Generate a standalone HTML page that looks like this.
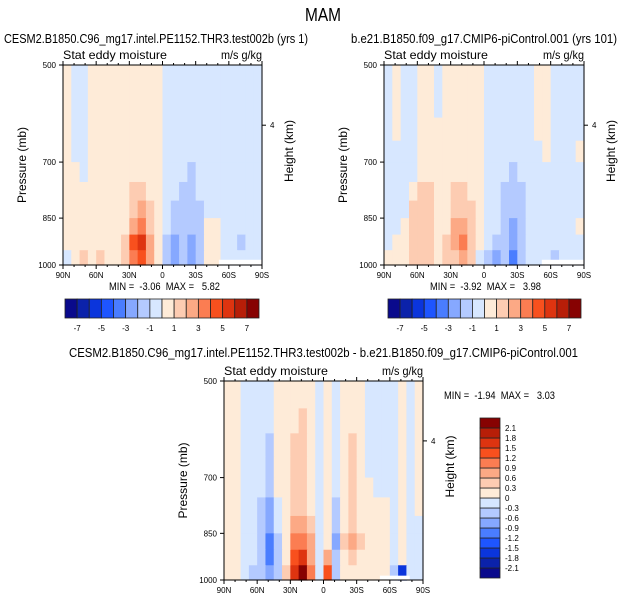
<!DOCTYPE html>
<html><head><meta charset="utf-8"><style>
body{margin:0;background:#fff;}
svg{display:block;font-family:"Liberation Sans",sans-serif;}
text{white-space:pre;}
</style></head><body>
<svg id="fig" width="622" height="602" viewBox="0 0 622 602"></svg>
<script>
const colors=["#0a0a8c","#0b22aa","#0b35dc","#1e55ff","#4a7dff","#86a8ff","#b4caff","#d7e7ff","#feebd8","#fdccb2","#fca985","#fb7d52","#f8501e","#de3410","#b71e08","#870202"];
const levelsTop=[-7,-6,-5,-4,-3,-2,-1,0,1,2,3,4,5,6,7];
const levelsDiff=[-2.1,-1.8,-1.5,-1.2,-0.9,-0.6,-0.3,0,0.3,0.6,0.9,1.2,1.5,1.8,2.1];
const pEdges=[500,550,600,650,700,750,800,850,900,950,1000];
const latTicks=["90N","60N","30N","0","30S","60S","90S"];
const pTicks=[500,700,850,1000];
const p1=[
[.5,-.5,-.5,.5,.5,.5,.5,.5,.5,.5,.5,.5,-.5,-.5,-.5,-.5,-.5,-.5,-.5,-.5,-.5,-.5,-.5,-.5],
[.5,-.5,-.5,.5,.5,.5,.5,.5,.5,.5,.5,.5,-.5,-.5,-.5,-.5,-.5,-.5,-.5,-.5,-.5,-.5,-.5,-.5],
[.5,-.5,-.5,.5,.5,.5,.5,.5,.5,.5,.5,.5,-.5,-.5,-.5,-.5,-.5,-.5,-.5,-.5,-.5,-.5,-.5,-.5],
[.5,-.5,-.5,.5,.5,.5,.5,.5,.5,.5,.5,.5,-.5,-.5,-.5,-.5,-.5,-.5,-.5,-.5,-.5,-.5,-.5,-.5],
[.5,.5,-.5,.5,.5,.5,.5,.5,.5,.5,.5,.5,-.5,-.5,-.5,-1.5,-.5,-.5,-.5,-.5,-.5,-.5,-.5,-.5],
[.5,.5,.5,.5,.5,.5,.5,.5,1.5,1.5,.5,.5,-.5,-.5,-1.5,-1.5,-.5,-.5,-.5,-.5,-.5,-.5,-.5,-.5],
[.5,.5,.5,.5,.5,.5,.5,.5,1.5,2.5,1.5,.5,-.5,-1.5,-1.5,-1.5,-1.5,-.5,-.5,-.5,-.5,-.5,-.5,-.5],
[.5,.5,.5,.5,.5,.5,.5,.5,2.5,3.5,1.5,.5,-.5,-1.5,-1.5,-1.5,-1.5,.5,.5,-.5,-.5,-.5,-.5,-.5],
[.5,.5,.5,.5,.5,.5,.5,1.5,4.5,5.5,2.5,.5,-1.5,-2.5,-1.5,-2.5,-1.5,.5,.5,-.5,-.5,-1.5,-.5,-.5],
[-.5,.5,1.5,.5,1.5,.5,.5,1.5,3.5,4.5,2.5,.5,-1.5,-2.5,-1.5,-2.5,-1.5,.5,.5,-.5,-.5,-.5,-.5,-.5]];
const p2=[
[-.5,.5,-.5,-.5,.5,.5,-.5,.5,.5,.5,.5,.5,-.5,-.5,-.5,-.5,-.5,-.5,.5,.5,-.5,-.5,-.5,-.5],
[-.5,.5,-.5,-.5,.5,.5,-.5,.5,.5,.5,.5,.5,-.5,-.5,-.5,-.5,-.5,-.5,.5,.5,-.5,-.5,-.5,-.5],
[-.5,.5,-.5,-.5,.5,.5,.5,.5,.5,.5,.5,.5,-.5,-.5,-.5,-.5,-.5,-.5,.5,.5,-.5,-.5,-.5,-.5],
[-.5,-.5,-.5,-.5,.5,.5,.5,.5,.5,.5,.5,.5,-.5,-.5,-.5,-.5,-.5,-.5,-.5,.5,-.5,-.5,-.5,.5],
[-.5,-.5,-.5,-.5,.5,.5,.5,.5,.5,.5,.5,.5,-.5,-.5,-.5,-1.5,-.5,-.5,-.5,-.5,-.5,-.5,-.5,-.5],
[-.5,-.5,-.5,.5,1.5,1.5,.5,.5,1.5,1.5,.5,.5,-.5,-.5,-1.5,-1.5,-1.5,-.5,-.5,-.5,-.5,-.5,-.5,-.5],
[-.5,-.5,-.5,1.5,1.5,1.5,.5,.5,1.5,1.5,1.5,.5,-.5,-.5,-1.5,-1.5,-1.5,-.5,-.5,-.5,-.5,-.5,-.5,-.5],
[-.5,-.5,.5,1.5,1.5,1.5,.5,.5,2.5,2.5,1.5,.5,-.5,-.5,-1.5,-2.5,-1.5,-.5,-.5,-.5,-.5,-.5,-.5,.5],
[-.5,.5,.5,1.5,1.5,1.5,.5,1.5,2.5,3.5,1.5,.5,-.5,-1.5,-1.5,-2.5,-1.5,-.5,-.5,-.5,-.5,-.5,-.5,-.5],
[.5,.5,.5,1.5,1.5,1.5,.5,1.5,1.5,2.5,1.5,-.5,-1.5,-2.5,-1.5,-3.5,-1.5,-.5,-.5,-.5,-1.5,-.5,-.5,-.5]];
const p3=[
[.15,.15,-.15,-.15,-.15,-.15,.15,.15,.15,.15,.15,-.15,.15,-.15,.15,.15,.15,-.15,-.15,-.15,-.15,.15,-.15,.15],
[.15,.15,-.15,-.15,-.15,-.15,.15,.15,.15,.45,.15,-.15,.15,-.15,.15,.15,.15,-.15,-.15,-.15,-.15,.15,-.15,.15],
[.15,.15,-.15,-.15,-.15,-.45,.15,.15,.45,.45,.15,-.15,.15,-.15,.15,.45,.15,-.15,-.15,-.15,-.15,.15,-.15,.15],
[.15,.15,-.15,-.15,-.15,-.45,.15,.15,.45,.45,.15,-.15,.15,-.15,.15,.45,.15,-.15,-.15,-.15,-.15,.15,-.15,.15],
[.15,.15,-.15,-.15,-.15,-.45,.15,.15,.45,.45,.15,-.15,.15,-.15,.15,.45,.15,.15,-.15,-.15,-.15,.15,-.15,.15],
[.15,.15,-.15,-.15,-.45,-.75,-.15,.15,.45,.45,.15,-.15,.15,-.45,.15,.45,.15,.15,.15,.15,-.15,.15,-.15,.15],
[.15,.15,-.15,-.15,-.45,-.75,-.15,.15,.75,.75,.45,-.15,.15,-.45,.15,.45,.15,.15,.15,.15,-.15,.15,-.15,-.15],
[.15,.15,-.15,-.15,-.45,-1.05,-.45,.15,1.05,1.05,.75,-.15,.15,-.75,.45,.75,.45,.15,.15,.15,-.15,.15,-.15,-.15],
[.15,.15,-.15,-.15,-.45,-1.05,-.45,.15,1.35,1.65,.75,-.15,.75,-.45,.15,.45,.15,.15,.15,.15,-.15,.15,-.15,-.15],
[.15,.15,-.15,-.45,-.45,-.75,-.45,.45,1.65,2.2,1.05,-.15,1.35,-.45,.15,.15,.15,.15,.15,.15,-.45,-1.65,-.15,-.15]];
const missing1=[-51,-90,982];
const missing2=[-52,-90,982];
const missing3=[-51,-78,985];

const NS="http://www.w3.org/2000/svg";
const svg=document.getElementById('fig');
function el(tag,attrs,parent,text){const e=document.createElementNS(NS,tag);for(const k in attrs)e.setAttribute(k,attrs[k]);if(text!==undefined)e.textContent=text;(parent||svg).appendChild(e);return e;}
function colorFor(v,lv){let i=0;for(const b of lv){if(v>=b)i++;}return colors[i];}

function panel(cfg){
  const {x0,y0,w,h,data,lv,miss,name}=cfg;
  const g=el('g',{},svg);
  
  
  const xs=lat=>x0+(90-lat)/180*w;
  const ys=p=>y0+(Math.log(p)-Math.log(500))/Math.log(2)*h;
  const nc=data[0].length, dl=180/nc;
  for(let r=0;r<data.length;r++){
    for(let c=0;c<nc;c++){
      const la=90-c*dl;
      const xa=xs(la), xb=xs(la-dl), ya=ys(pEdges[r]), yb=ys(pEdges[r+1]);
      const rc=el('rect',{x:xa,y:ya,width:xb-xa+0.6,height:yb-ya+0.6,fill:colorFor(data[r][c],lv)},g);
      
      
    }
  }
  const m=el('rect',{x:xs(miss[0]),y:ys(miss[2]),width:xs(miss[1])-xs(miss[0]),height:y0+h-ys(miss[2]),fill:'#fff'},g);
  
  
  const fr=el('rect',{x:x0,y:y0,width:w,height:h,fill:'none',stroke:'#000','stroke-width':1},g);
  
  
  for(let i=0;i<=18;i++){
    const x=x0+i*w/18, major=i%3===0, L=major?4:2;
    el('line',{x1:x,y1:y0+h,x2:x,y2:y0+h+L,stroke:'#000'},g);
    el('line',{x1:x,y1:y0,x2:x,y2:y0-L,stroke:'#000'},g);
  }
  latTicks.forEach((t,i)=>{const tx=el('text',{x:x0+i*w/6,y:y0+h+13,'font-size':8,'text-anchor':'middle'},g,t);
    });
  pTicks.forEach(p=>{const y=ys(p);el('line',{x1:x0-4,y1:y,x2:x0,y2:y,stroke:'#000'},g);
    const tx=el('text',{x:x0-7,y:y+3,'font-size':8,'text-anchor':'end'},g,p);
    });
  const y4=ys(616);
  el('line',{x1:x0+w,y1:y4,x2:x0+w+4,y2:y4,stroke:'#000'},g);
  el('text',{x:x0+w+8,y:y4+3,'font-size':8},g,'4');
  const yl=el('text',{x:0,y:0,'font-size':12,'text-anchor':'middle',transform:`translate(${x0-37},${y0+h/2}) rotate(-90)`},g,'Pressure (mb)');
  
  const hl=el('text',{x:0,y:0,'font-size':12,'text-anchor':'middle',transform:`translate(${x0+w+31},${y0+h/2-14}) rotate(-90)`},g,'Height (km)');
  
  const st=el('text',{x:x0,y:y0-6,'font-size':12,textLength:104,lengthAdjust:'spacingAndGlyphs'},g,'Stat eddy moisture');
  
  const un=el('text',{x:x0+w-41,y:y0-6,'font-size':12,textLength:41,lengthAdjust:'spacingAndGlyphs'},g,'m/s g/kg');
  
}
function hbar(x0,y0,w,h,labels,name){
  const g=el('g',{},svg);
  
  
  const bw=w/16;
  colors.forEach((c,i)=>{el('rect',{x:x0+i*bw,y:y0,width:bw,height:h,fill:c,stroke:'#222','stroke-width':0.8},g);});
  labels.forEach((l,i)=>{if(i%2===0)el('text',{x:x0+(i+1)*bw,y:y0+h+13,'font-size':8,'text-anchor':'middle'},g,l);});
}
function vbar(x0,y0,w,h,labels,name){
  const g=el('g',{},svg);
  
  
  const bh=h/16;
  colors.forEach((c,i)=>{el('rect',{x:x0,y:y0+h-(i+1)*bh,width:w,height:bh,fill:c,stroke:'#222','stroke-width':0.8},g);});
  labels.forEach((l,i)=>{el('text',{x:x0+w+5,y:y0+h-(i+1)*bh+3,'font-size':8},g,l);});
}

el('text',{x:305,y:21,'font-size':18,textLength:36,lengthAdjust:'spacingAndGlyphs',},svg,'MAM');
el('text',{x:4,y:43,'font-size':12.5,textLength:304,lengthAdjust:'spacingAndGlyphs',},svg,'CESM2.B1850.C96_mg17.intel.PE1152.THR3.test002b (yrs 1)');
el('text',{x:351,y:43,'font-size':12.5,textLength:266,lengthAdjust:'spacingAndGlyphs',},svg,'b.e21.B1850.f09_g17.CMIP6-piControl.001 (yrs 101)');
el('text',{x:69,y:357,'font-size':12.5,textLength:509,lengthAdjust:'spacingAndGlyphs',},svg,'CESM2.B1850.C96_mg17.intel.PE1152.THR3.test002b - b.e21.B1850.f09_g17.CMIP6-piControl.001');

panel({x0:63,y0:65,w:199,h:200,data:p1,lv:levelsTop,miss:missing1,name:'left-panel'});
panel({x0:384,y0:65,w:200,h:200,data:p2,lv:levelsTop,miss:missing2,name:'right-panel'});
panel({x0:224,y0:381,w:199,h:199,data:p3,lv:levelsDiff,miss:missing3,name:'diff-panel'});

el('text',{x:109,y:290,'font-size':11,textLength:111,lengthAdjust:'spacingAndGlyphs',},svg,'MIN =  -3.06  MAX =   5.82');
el('text',{x:430,y:290,'font-size':11,textLength:111,lengthAdjust:'spacingAndGlyphs',},svg,'MIN =  -3.92  MAX =   3.98');
el('text',{x:444,y:399,'font-size':11,textLength:111,lengthAdjust:'spacingAndGlyphs',},svg,'MIN =  -1.94  MAX =   3.03');

hbar(65,299,194,19,levelsTop,'left-colorbar');
hbar(388,299,193,19,levelsTop,'right-colorbar');
vbar(480,418,20,160,levelsDiff.map(v=>v===0?'0':v.toFixed(1)),'diff-colorbar');
</script>
</body></html>
